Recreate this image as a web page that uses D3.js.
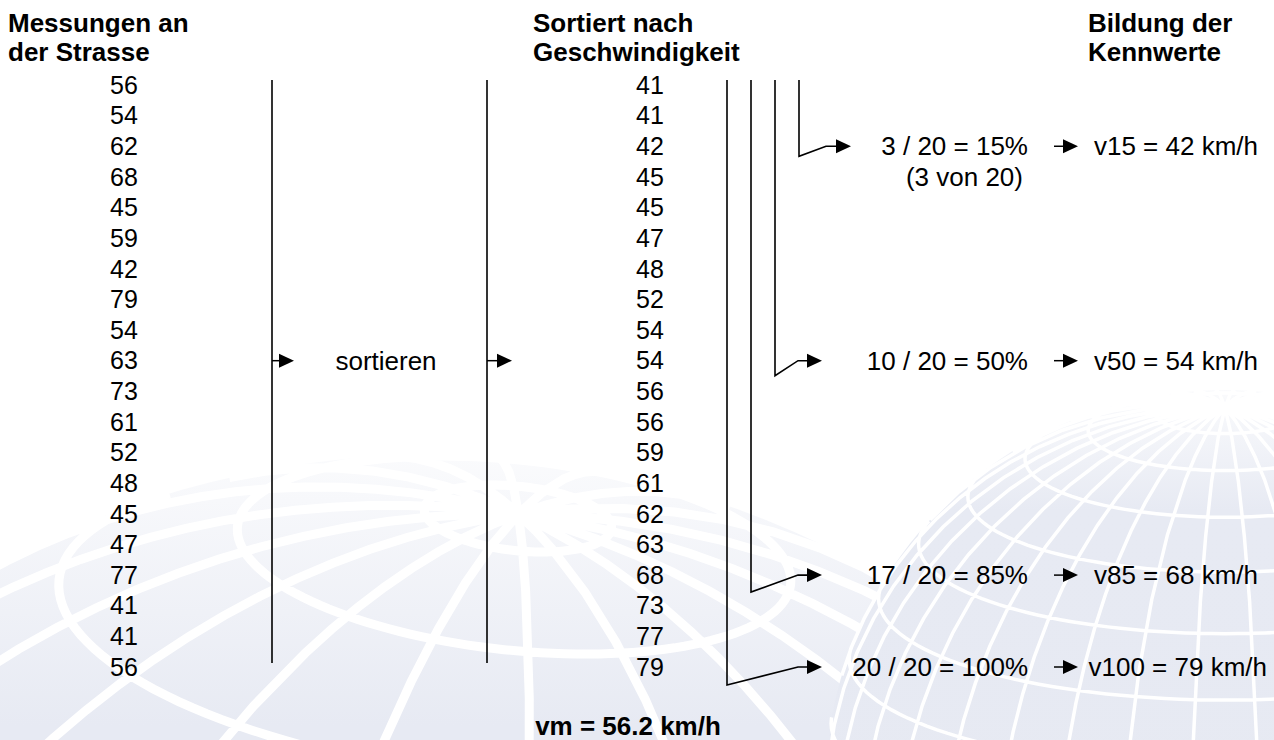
<!DOCTYPE html>
<html>
<head>
<meta charset="utf-8">
<script src="https://cdn.jsdelivr.net/npm/d3@7"></script>
<style>
  body { margin: 0; background: #fff; }
  svg text { font-family: "Liberation Sans", Arial, sans-serif; fill: #000; }
</style>
</head>
<body>
<div id="my_dataviz"></div>
<script>
// measured speeds, in the order they were recorded
var measured = [56, 54, 62, 68, 45, 59, 42, 79, 54, 63, 73, 61, 52, 48, 45, 47, 77, 41, 41, 56];
// same speeds sorted
var sortedSpeeds = [41, 41, 42, 45, 45, 47, 48, 52, 54, 54, 56, 56, 59, 61, 62, 63, 68, 73, 77, 79];

// percentile brackets
var ranks = [3, 10, 17, 20];
var shareLabels = ["3 / 20 = 15%", "10 / 20 = 50%", "17 / 20 = 85%", "20 / 20 = 100%"];
var resultLabels = ["v15 = 42 km/h", "v50 = 54 km/h", "v85 = 68 km/h", "v100 = 79 km/h"];
var noteLabel = "(3 von 20)";

var headers = [["Messungen an", "der Strasse"], ["Sortiert nach", "Geschwindigkeit"], ["Bildung der", "Kennwerte"]];
var stepLabel = "sortieren";
var meanLabel = "vm = 56.2 km/h";

var width = 1274, height = 740;

var svg = d3.select("#my_dataviz")
  .append("svg")
    .attr("width", width)
    .attr("height", height);

// background globes (watermark)
var defs = svg.append("defs");
var grad = defs.append("linearGradient")
  .attr("id", "fade").attr("x1", 0).attr("y1", 0).attr("x2", 0).attr("y2", 1);
grad.append("stop").attr("offset", "0%").attr("stop-color", "#e7eaf3").attr("stop-opacity", 0.2);
grad.append("stop").attr("offset", "15%").attr("stop-color", "#e7eaf3").attr("stop-opacity", 1);
grad.append("stop").attr("offset", "100%").attr("stop-color", "#e6e9f2").attr("stop-opacity", 1);

function globe(cx, cy, r, rot, step, sw) {
  var proj = d3.geoOrthographic().scale(r).translate([cx, cy]).rotate(rot).clipAngle(90);
  var path = d3.geoPath(proj);
  var g = svg.append("g");
  g.append("path").datum({type: "Sphere"}).attr("d", path).attr("fill", "url(#fade)");
  g.append("path").datum(d3.geoGraticule().step(step).extentMajor([[-180, -90], [180, 90]])())
    .attr("d", path).attr("fill", "none").attr("stroke", "#fff").attr("stroke-width", sw);
}
globe(430, 1355, 900, [25, -20, -6], [20, 12], 9);
globe(1225, 790, 400, [5, -17, 0], [10, 10], 3.5);

// row positions
var y = d3.scaleLinear().domain([0, sortedSpeeds.length - 1]).range([85, 667]);

// headers
var headerX = [8, 533, 1088];
headers.forEach(function(h, i) {
  svg.selectAll(null).data(h).enter().append("text")
    .attr("x", headerX[i])
    .attr("y", function(d, j) { return 23 + j * 29; })
    .attr("dy", "0.35em")
    .style("font-size", "26px").style("font-weight", "bold")
    .text(function(d) { return d; });
});

// measured column
svg.selectAll(".meas").data(measured).enter().append("text")
  .attr("class", "meas")
  .attr("x", 124).attr("y", function(d, i) { return y(i); })
  .attr("dy", "0.35em").attr("text-anchor", "middle")
  .style("font-size", "25px")
  .text(function(d) { return d; });

// sorted column
svg.selectAll(".sorted").data(sortedSpeeds).enter().append("text")
  .attr("class", "sorted")
  .attr("x", 650).attr("y", function(d, i) { return y(i); })
  .attr("dy", "0.35em").attr("text-anchor", "middle")
  .style("font-size", "25px")
  .text(function(d) { return d; });

function arrowHead(tipX, yy, len, half) {
  svg.append("path")
    .attr("d", "M" + tipX + "," + yy + "L" + (tipX - len) + "," + (yy - half) + "L" + (tipX - len) + "," + (yy + half) + "Z")
    .attr("fill", "#000");
}
function hLine(x1, x2, yy) {
  svg.append("line").attr("x1", x1).attr("x2", x2).attr("y1", yy).attr("y2", yy)
    .attr("stroke", "#000").attr("stroke-width", 1.5);
}

// separator lines and sort arrows
var midRow = 9;
[272, 487].forEach(function(x, i) {
  svg.append("line").attr("x1", x).attr("x2", x).attr("y1", 80).attr("y2", 663)
    .attr("stroke", "#000").attr("stroke-width", 1.6);
  var tip = i === 0 ? 294 : 512;
  hLine(x, tip - 10, y(midRow));
  arrowHead(tip, y(midRow), 15, 7);
});
svg.append("text")
  .attr("x", 386).attr("y", y(midRow)).attr("dy", "0.35em").attr("text-anchor", "middle")
  .style("font-size", "26px").text(stepLabel);

// percentile brackets
var bracketX = [799, 775, 751, 727];
var drop = [10, 15, 17, 18];
var bendX = [826, 798, 798, 798];
var tipX = [851, 822, 822, 822];
ranks.forEach(function(r, i) {
  var yy = y(r - 1);
  svg.append("path")
    .attr("d", "M" + bracketX[i] + ",80V" + (yy + drop[i]) + "L" + bendX[i] + "," + yy + "H" + (tipX[i] - 10))
    .attr("fill", "none").attr("stroke", "#000").attr("stroke-width", 1.6);
  arrowHead(tipX[i], yy, 15, 7);

  svg.append("text")
    .attr("x", 1028).attr("y", yy).attr("dy", "0.35em").attr("text-anchor", "end")
    .style("font-size", "26px").text(shareLabels[i]);

  hLine(1054, 1064, yy);
  arrowHead(1078, yy, 15, 7);
  svg.append("text")
    .attr("x", i === 3 ? 1267 : 1258).attr("y", yy).attr("dy", "0.35em").attr("text-anchor", "end")
    .style("font-size", "26px").text(resultLabels[i]);
});
svg.append("text")
  .attr("x", 1023).attr("y", y(3)).attr("dy", "0.35em").attr("text-anchor", "end")
  .style("font-size", "26px").text(noteLabel);

// mean
svg.append("text")
  .attr("x", 628).attr("y", 726).attr("dy", "0.35em").attr("text-anchor", "middle")
  .style("font-size", "26px").style("font-weight", "bold")
  .text(meanLabel);
</script>
</body>
</html>
